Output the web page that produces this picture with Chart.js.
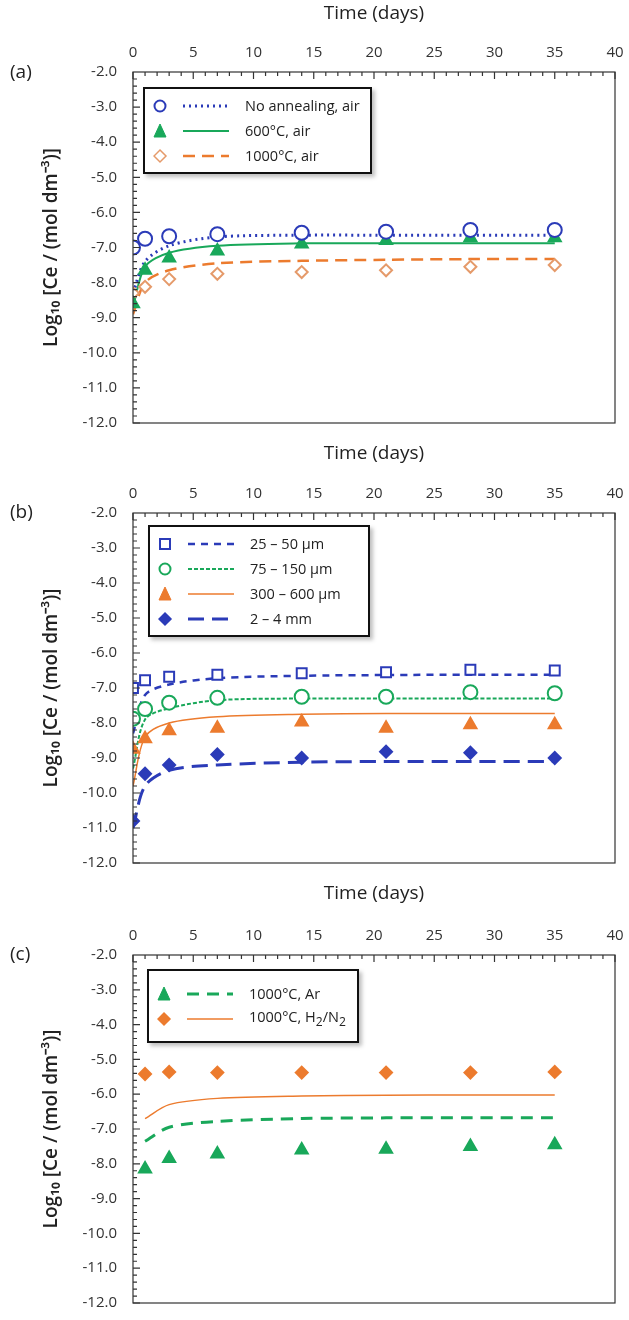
<!DOCTYPE html>
<html>
<head>
<meta charset="utf-8">
<script src="https://cdn.jsdelivr.net/npm/chart.js@4"></script>
<style>
  body { margin: 0; background: #fff; font-family: "Open Sans", sans-serif; }
  .panel { position: absolute; left: 0; width: 629px; height: 440px; }
  .letter { position: absolute; left: 10px; font-size: 19px; color: #222; }
  .legend { position: absolute; border: 2px solid #111; background: #fff; box-shadow: 3px 3px 4px rgba(0,0,0,0.25); font-size: 14.5px; color: #222; white-space: nowrap; }
  .legend .row { display: flex; align-items: center; height: 25px; }
  .legend svg { margin-left: 8px; margin-right: 10px; flex: none; }
</style>
</head>
<body>
<div class="panel" style="top:0"><canvas id="chartA" width="629" height="440"></canvas></div>
<div class="panel" style="top:440px"><canvas id="chartB" width="629" height="440"></canvas></div>
<div class="panel" style="top:880px"><canvas id="chartC" width="629" height="440"></canvas></div>
<div class="letter" style="top:58px">(a)</div>
<div class="letter" style="top:498px">(b)</div>
<div class="letter" style="top:940px">(c)</div>
<div id="legA" class="legend" style="left:143px;top:87px;width:225px;padding:4px 0"></div>
<div id="legB" class="legend" style="left:148px;top:525px;width:218px;padding:4px 0"></div>
<div id="legC" class="legend" style="left:147px;top:969px;width:208px;padding:10px 0"></div>
<script>
// sampling times (days)
const timesAB = [0, 1, 3, 7, 14, 21, 28, 35];
const timesC = [1, 3, 7, 14, 21, 28, 35];

// panel (a): measured and model
const noAnnealPts = [-7.0, -6.75, -6.68, -6.62, -6.58, -6.55, -6.5, -6.5];
const noAnnealFit = [-8.3, -7.4, -6.95, -6.7, -6.65, -6.65, -6.65, -6.65];
const air600Pts = [-8.6, -7.65, -7.3, -7.1, -6.9, -6.8, -6.72, -6.72];
const air600Fit = [-8.7, -7.55, -7.15, -6.95, -6.88, -6.88, -6.88, -6.88];
const air1000Pts = [-8.3, -8.12, -7.9, -7.75, -7.7, -7.65, -7.55, -7.5];
const air1000Fit = [-8.9, -8.0, -7.65, -7.45, -7.38, -7.35, -7.33, -7.33];

// panel (b): particle sizes
const size25Pts = [-7.0, -6.78, -6.68, -6.62, -6.58, -6.55, -6.48, -6.5];
const size25Fit = [-8.3, -7.2, -6.9, -6.72, -6.65, -6.63, -6.62, -6.62];
const size75Pts = [-7.88, -7.6, -7.42, -7.28, -7.25, -7.25, -7.12, -7.15];
const size75Fit = [-9.3, -7.9, -7.58, -7.35, -7.3, -7.3, -7.3, -7.3];
const size300Pts = [-8.75, -8.45, -8.22, -8.15, -7.97, -8.15, -8.05, -8.05];
const size300Fit = [-9.8, -8.4, -8.0, -7.82, -7.75, -7.73, -7.73, -7.73];
const size2mmPts = [-10.8, -9.45, -9.2, -8.9, -9.0, -8.82, -8.85, -9.0];
const size2mmFit = [-11.0, -9.8, -9.35, -9.2, -9.12, -9.1, -9.1, -9.1];

// panel (c): atmospheres
const arPts = [-8.15, -7.85, -7.72, -7.6, -7.58, -7.5, -7.45];
const arFit = [-7.35, -6.95, -6.78, -6.7, -6.68, -6.68, -6.68];
const h2Pts = [-5.42, -5.36, -5.38, -5.38, -5.38, -5.38, -5.36];
const h2Fit = [-6.7, -6.3, -6.12, -6.05, -6.03, -6.02, -6.02];

const xTicks = [0, 5, 10, 15, 20, 25, 30, 35, 40];
const yTicks = [-2, -3, -4, -5, -6, -7, -8, -9, -10, -11, -12];

const BLUE = '#2b3bb8', GREEN = '#19a85a', ORANGE = '#ec7b2e', LORANGE = '#e59a6a';

function xy(ts, vs) { return ts.map((t, i) => ({ x: t, y: vs[i] })); }

function pts(ts, vs, style, color, fill) {
  return { type: 'scatter', data: xy(ts, vs), pointStyle: style, pointRadius: style === 'rectRot' ? 6 : 7,
    borderColor: color, backgroundColor: fill ? color : '#fff', pointBorderWidth: 2, showLine: false, order: 0 };
}
function fit(ts, vs, color, dash, width) {
  return { type: 'line', data: xy(ts, vs), borderColor: color, borderDash: dash, borderWidth: width,
    pointRadius: 0, fill: false, tension: 0.3, order: 1 };
}

// inside ticks + frame
const framePlugin = {
  id: 'frame',
  afterDraw(chart) {
    const { ctx, chartArea: a, scales } = chart;
    ctx.save();
    ctx.strokeStyle = '#333';
    ctx.lineWidth = 1.2;
    ctx.strokeRect(a.left, a.top, a.right - a.left, a.bottom - a.top);
    ctx.beginPath();
    for (let v = 0; v <= 40; v += 1) {
      const px = scales.x.getPixelForValue(v);
      const len = v % 5 === 0 ? 7 : 4;
      ctx.moveTo(px, a.top); ctx.lineTo(px, a.top + len);
    }
    for (let v = -12; v <= -2.001; v += 0.2) {
      const py = scales.y.getPixelForValue(v);
      const major = Math.abs(v - Math.round(v)) < 0.01;
      ctx.moveTo(a.left, py); ctx.lineTo(a.left + (major ? 7 : 4), py);
    }
    ctx.stroke();
    ctx.restore();
  }
};

function makeChart(id, datasets, topH, bottomPad) {
  new Chart(document.getElementById(id), {
    data: { datasets },
    options: {
      responsive: false, animation: false,
      layout: { padding: { left: 0, right: 14, top: 0, bottom: bottomPad } },
      plugins: { legend: { display: false }, tooltip: { enabled: false } },
      scales: {
        x: { type: 'linear', position: 'top', min: 0, max: 40,
          afterBuildTicks: s => { s.ticks = xTicks.map(v => ({ value: v })); },
          afterFit: s => { s.height = topH; },
          grid: { display: false }, border: { display: false },
          ticks: { color: '#333', font: { size: 15, family: 'Open Sans' }, padding: 2 },
          title: { display: true, text: 'Time (days)', color: '#222', font: { size: 19, family: 'Open Sans' }, padding: { top: 2, bottom: 0 } } },
        y: { type: 'linear', min: -12, max: -2,
          afterBuildTicks: s => { s.ticks = yTicks.map(v => ({ value: v })); },
          afterFit: s => { s.width = 133; },
          grid: { display: false }, border: { display: false },
          ticks: { color: '#333', font: { size: 15, family: 'Open Sans' }, padding: 8, callback: v => v.toFixed(1) },
          title: { display: true, text: 'Log\u2081\u2080 [Ce / (mol dm\u207B\u00B3)]', color: '#222', font: { size: 19, weight: '600', family: 'Open Sans' }, padding: { top: 40, bottom: 4 } } }
      }
    },
    plugins: [framePlugin]
  });
}

makeChart('chartA', [
  fit(timesAB, noAnnealFit, BLUE, [2, 4], 3),
  fit(timesAB, air600Fit, GREEN, [], 2),
  fit(timesAB, air1000Fit, ORANGE, [12, 7], 2.5),
  pts(timesAB, noAnnealPts, 'circle', BLUE, false),
  pts(timesAB, air600Pts, 'triangle', GREEN, true),
  pts(timesAB, air1000Pts, 'rectRot', LORANGE, false)
], 72, 8);

makeChart('chartB', [
  fit(timesAB, size25Fit, BLUE, [7, 6], 2.5),
  fit(timesAB, size75Fit, GREEN, [4, 2], 2),
  fit(timesAB, size300Fit, ORANGE, [], 1.5),
  fit(timesAB, size2mmFit, BLUE, [16, 8], 3),
  pts(timesAB, size25Pts, 'rect', BLUE, false),
  pts(timesAB, size75Pts, 'circle', GREEN, false),
  pts(timesAB, size300Pts, 'triangle', ORANGE, true),
  pts(timesAB, size2mmPts, 'rectRot', BLUE, true)
], 73, 7);

makeChart('chartC', [
  fit(timesC, arFit, GREEN, [12, 8], 3),
  fit(timesC, h2Fit, ORANGE, [], 1.5),
  pts(timesC, arPts, 'triangle', GREEN, true),
  pts(timesC, h2Pts, 'rectRot', ORANGE, true)
], 75, 5);

// HTML legends
function sym(style, color, fill, dash, width, lineColor) {
  let m = '';
  const f = fill ? color : '#fff';
  if (style === 'circle') m = `<circle cx="7" cy="9" r="5.5" fill="${f}" stroke="${color}" stroke-width="2"/>`;
  if (style === 'triangle') m = `<polygon points="7,2 13,15 1,15" fill="${f}" stroke="${color}" stroke-width="1"/>`;
  if (style === 'rect') m = `<rect x="2" y="4" width="10" height="10" fill="${f}" stroke="${color}" stroke-width="2"/>`;
  if (style === 'rectRot') m = `<polygon points="7,3 13,9 7,15 1,9" fill="${f}" stroke="${color}" stroke-width="1.5"/>`;
  const da = dash.length ? `stroke-dasharray="${dash.join(' ')}"` : '';
  return `<svg width="82" height="18">${m}<line x1="30" y1="9" x2="76" y2="9" stroke="${lineColor}" stroke-width="${width}" ${da}/></svg>`;
}
function legend(id, rows) {
  document.getElementById(id).innerHTML = rows.map(r => `<div class="row">${r[0]}<span>${r[1]}</span></div>`).join('');
}
legend('legA', [
  [sym('circle', BLUE, false, [2, 4], 3, BLUE), 'No annealing, air'],
  [sym('triangle', GREEN, true, [], 2, GREEN), '600°C, air'],
  [sym('rectRot', LORANGE, false, [12, 7], 2.5, ORANGE), '1000°C, air']
]);
legend('legB', [
  [sym('rect', BLUE, false, [7, 6], 2.5, BLUE), '25 – 50 µm'],
  [sym('circle', GREEN, false, [4, 2], 2, GREEN), '75 – 150 µm'],
  [sym('triangle', ORANGE, true, [], 1.5, ORANGE), '300 – 600 µm'],
  [sym('rectRot', BLUE, true, [16, 8], 3, BLUE), '2 – 4 mm']
]);
legend('legC', [
  [sym('triangle', GREEN, true, [12, 8], 3, GREEN), '1000°C, Ar'],
  [sym('rectRot', ORANGE, true, [], 1.5, ORANGE), '1000°C, H<sub>2</sub>/N<sub>2</sub>']
]);
</script>
</body>
</html>
